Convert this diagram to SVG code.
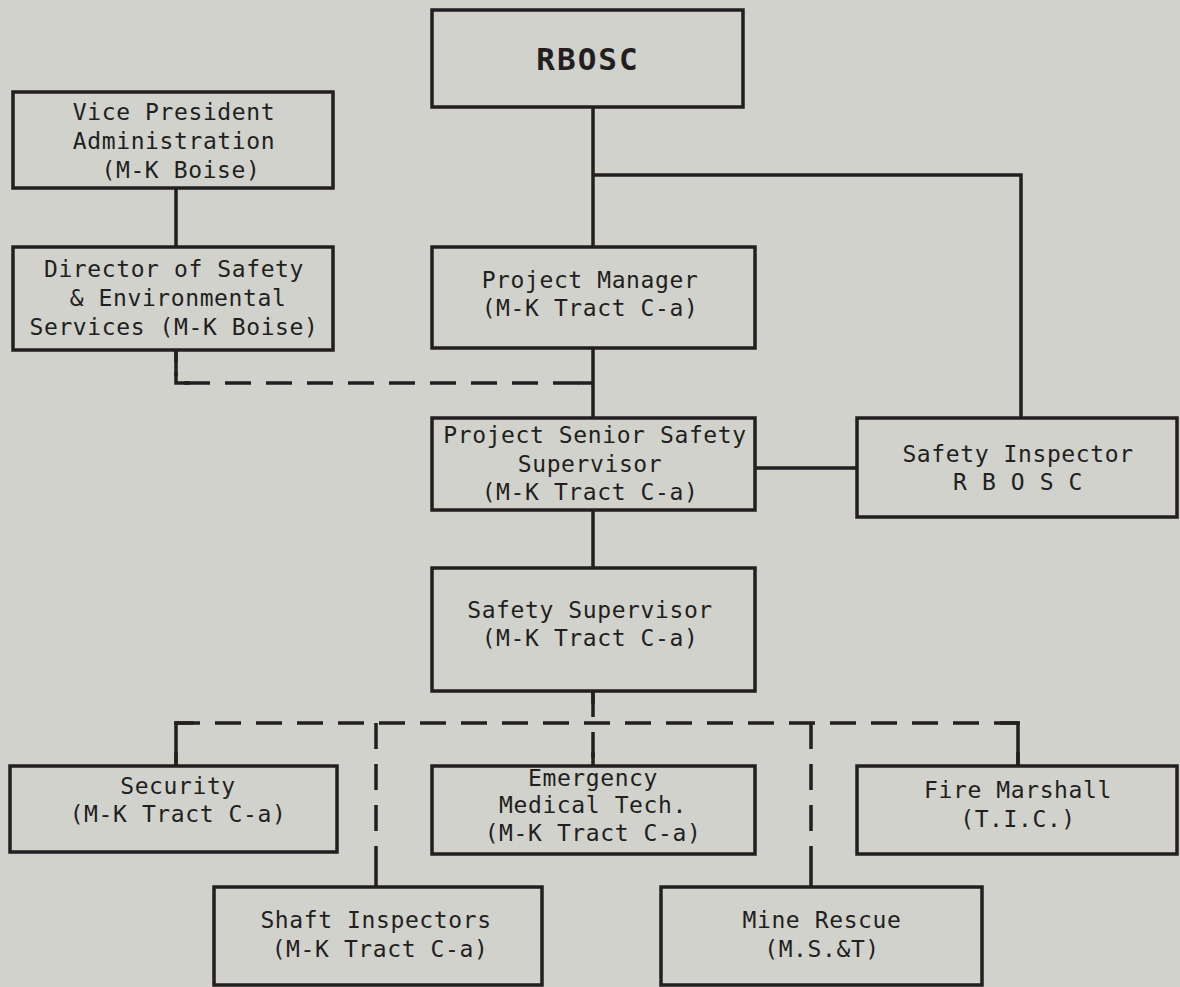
<svg xmlns="http://www.w3.org/2000/svg" width="1180" height="987" viewBox="0 0 1180 987">
<style>
.bg{fill:#d0d2cb}
.box{fill:#d0d2cb;stroke:#231f20;stroke-width:3.5}
.ln{fill:none;stroke:#231f20;stroke-width:3.5}
.dash{fill:none;stroke:#231f20;stroke-width:3.5;stroke-dasharray:26 15}
text{font-family:"DejaVu Sans Mono","Liberation Mono",monospace;font-size:23px;letter-spacing:0.6px;fill:#231f20;text-anchor:middle}
.title{font-size:31px;font-weight:bold;letter-spacing:2px}
</style>
<rect class="bg" x="0" y="0" width="1180" height="987"/>
<g id="connectors">
<path class="ln" d="M593,107 V247"/>
<path class="ln" d="M593,175 H1021 V418"/>
<path class="ln" d="M176,188 V247"/>
<path class="ln" d="M593,348 V418"/>
<path class="ln" d="M755,468 H857"/>
<path class="ln" d="M593,510 V568"/>
<path class="dash" d="M176,350 V383 H593"/>
<path class="ln" d="M176,350 V362 M176,372 V383 H190 M578,383 H593"/>
<path class="dash" d="M593,691 V766"/>
<path class="ln" d="M593,691 V704 M593,752 V766"/>
<path class="dash" d="M176,766 V723 H1018 V766"/>
<path class="ln" d="M176,740 V723 H194 M1000,723 H1018 V740 M176,752 V766 M1018,752 V766"/>
<path class="dash" d="M376,723 V887"/>
<path class="ln" d="M376,872 V887"/>
<path class="dash" d="M811,723 V887"/>
<path class="ln" d="M811,872 V887"/>
</g>
<g id="rbosc">
<rect class="box" x="432" y="10" width="311" height="97"/>
<text class="title" x="588" y="70">RBOSC</text>
</g>
<g id="vp">
<rect class="box" x="13" y="92" width="320" height="96"/>
<text x="174" y="120">Vice President</text>
<text x="174" y="149">Administration</text>
<text x="181" y="178">(M-K Boise)</text>
</g>
<g id="director">
<rect class="box" x="13" y="247" width="320" height="103"/>
<text x="174" y="277">Director of Safety</text>
<text x="178" y="306">&amp; Environmental</text>
<text x="174" y="335">Services (M-K Boise)</text>
</g>
<g id="pm">
<rect class="box" x="432" y="247" width="323" height="101"/>
<text x="590" y="288">Project Manager</text>
<text x="590" y="316">(M-K Tract C-a)</text>
</g>
<g id="pss">
<rect class="box" x="432" y="418" width="323" height="92"/>
<text x="595" y="443">Project Senior Safety</text>
<text x="590" y="472">Supervisor</text>
<text x="590" y="500">(M-K Tract C-a)</text>
</g>
<g id="inspector">
<rect class="box" x="857" y="418" width="320" height="99"/>
<text x="1018" y="462">Safety Inspector</text>
<text x="1018" y="490">R B O S C</text>
</g>
<g id="supervisor">
<rect class="box" x="432" y="568" width="323" height="123"/>
<text x="590" y="618">Safety Supervisor</text>
<text x="590" y="646">(M-K Tract C-a)</text>
</g>
<g id="security">
<rect class="box" x="10" y="766" width="327" height="86"/>
<text x="178" y="794">Security</text>
<text x="178" y="822">(M-K Tract C-a)</text>
</g>
<g id="emt">
<rect class="box" x="432" y="766" width="323" height="88"/>
<text x="593" y="786">Emergency</text>
<text x="593" y="813">Medical Tech.</text>
<text x="593" y="841">(M-K Tract C-a)</text>
</g>
<g id="fire">
<rect class="box" x="857" y="766" width="320" height="88"/>
<text x="1018" y="798">Fire Marshall</text>
<text x="1018" y="827">(T.I.C.)</text>
</g>
<g id="shaft">
<rect class="box" x="214" y="887" width="328" height="98"/>
<text x="376" y="928">Shaft Inspectors</text>
<text x="380" y="957">(M-K Tract C-a)</text>
</g>
<g id="rescue">
<rect class="box" x="661" y="887" width="321" height="98"/>
<text x="822" y="928">Mine Rescue</text>
<text x="822" y="957">(M.S.&amp;T)</text>
</g>
</svg>
